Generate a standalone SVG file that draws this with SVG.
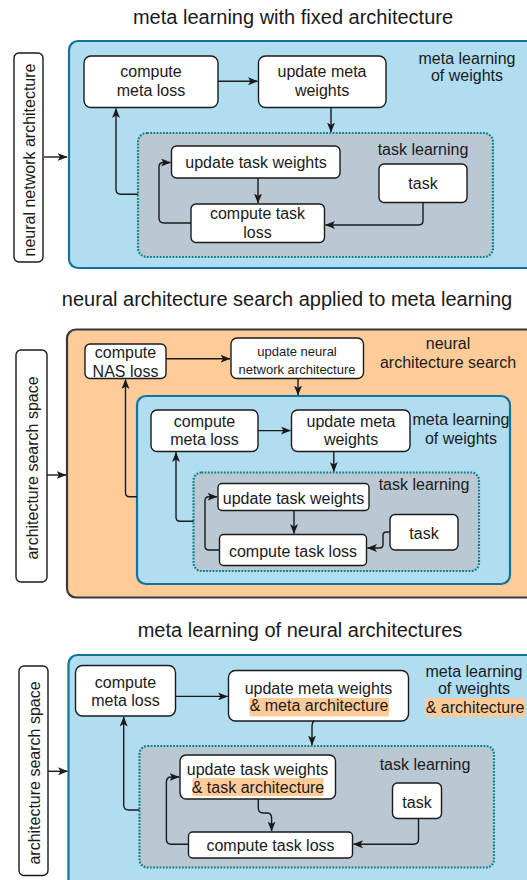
<svg xmlns="http://www.w3.org/2000/svg" width="527" height="880" viewBox="0 0 527 880">
<defs>
<style>
text{font-family:"Liberation Sans",Arial,Helvetica,sans-serif;fill:#1a1a1a;text-anchor:middle}
.t{font-size:16px}
.s{font-size:13px}
.ttl{font-size:20px}
.n{fill:#fff;stroke:#1a1a1a;stroke-width:1.4}
.blue{fill:#b1ddf0;stroke:#10739e;stroke-width:2.2}
.orange{fill:#ffcc99;stroke:#36393d;stroke-width:2.2}
.dot{fill:#bac8d3;stroke:#0e8088;stroke-width:2.2;stroke-dasharray:1.8 1.4}
.hl{fill:#ffcc99}
.c{fill:none;stroke:#1a1a1a;stroke-width:1.4;marker-end:url(#a)}
</style>
<marker id="a" viewBox="0 0 10 8" refX="9.5" refY="4" markerWidth="10" markerHeight="8" markerUnits="userSpaceOnUse" orient="auto">
<path d="M0,0 L10,4 L0,8 L2.5,4 z" fill="#1a1a1a"/>
</marker>
</defs>

<!-- Panel 1 -->
<text class="ttl" x="293" y="24">meta learning with fixed architecture</text>
<g id="p1-blue"><rect class="blue" x="69" y="41" width="520" height="227" rx="9"/>
<text class="t" x="467" y="64">meta learning</text><text class="t" x="467" y="81">of weights</text></g>
<g id="p1-arch"><rect class="n" x="14" y="53" width="29" height="209" rx="5"/>
<text class="t" transform="translate(28.5,160) rotate(-90)" y="6">neural network architecture</text></g>
<g id="p1-task-learning"><rect class="dot" x="138" y="133" width="355" height="124" rx="9"/>
<text class="t" x="423" y="155">task learning</text></g>
<g id="p1-cml"><rect class="n" x="84" y="56" width="134" height="51.5" rx="7"/>
<text class="t" x="151" y="77">compute</text><text class="t" x="151" y="96">meta loss</text></g>
<g id="p1-umw"><rect class="n" x="258.5" y="56" width="127.5" height="51.5" rx="7"/>
<text class="t" x="322" y="77">update meta</text><text class="t" x="322" y="96">weights</text></g>
<g id="p1-utw"><rect class="n" x="171.5" y="146" width="168.5" height="32" rx="5"/>
<text class="t" x="256" y="168">update task weights</text></g>
<g id="p1-task"><rect class="n" x="379" y="164" width="88" height="38.5" rx="5"/>
<text class="t" x="423" y="189">task</text></g>
<g id="p1-ctl"><rect class="n" x="191" y="204" width="133.5" height="38.5" rx="5"/>
<text class="t" x="257.5" y="219">compute task</text><text class="t" x="257.5" y="238">loss</text></g>

<!-- Panel 2 -->
<text class="ttl" x="287" y="306">neural architecture search applied to meta learning</text>
<g id="p2-orange"><rect class="orange" x="67" y="329.5" width="520" height="268" rx="9"/>
<text class="t" x="448" y="349">neural</text><text class="t" x="448" y="367.5">architecture search</text></g>
<g id="p2-space"><rect class="n" x="16" y="350" width="31" height="232" rx="5"/>
<text class="t" transform="translate(31.5,468) rotate(-90)" y="6">architecture search space</text></g>
<g id="p2-cnas"><rect class="n" x="85" y="344" width="81" height="34.5" rx="5"/>
<text class="t" x="125.5" y="358">compute</text><text class="t" x="125.5" y="376.5">NAS loss</text></g>
<g id="p2-unna"><rect class="n" x="231" y="338" width="132.5" height="40.5" rx="6"/>
<text class="s" x="297" y="355.5">update neural</text><text class="s" x="297" y="374">network architecture</text></g>
<g id="p2-blue"><rect class="blue" x="137" y="396" width="373" height="188" rx="9"/>
<text class="t" x="461" y="425">meta learning</text><text class="t" x="461" y="444">of weights</text></g>
<g id="p2-task-learning"><rect class="dot" x="193.5" y="472.5" width="285.5" height="98.5" rx="8"/>
<text class="t" x="424" y="490">task learning</text></g>
<g id="p2-cml"><rect class="n" x="151" y="410" width="107" height="41.5" rx="6"/>
<text class="t" x="204.5" y="427">compute</text><text class="t" x="204.5" y="445">meta loss</text></g>
<g id="p2-umw"><rect class="n" x="291.5" y="410" width="118.5" height="41.5" rx="6"/>
<text class="t" x="351" y="427">update meta</text><text class="t" x="351" y="445">weights</text></g>
<g id="p2-utw"><rect class="n" x="218" y="483.5" width="151" height="27" rx="4"/>
<text class="t" x="293.5" y="503.5">update task weights</text></g>
<g id="p2-task"><rect class="n" x="390" y="514.5" width="68" height="35.5" rx="5"/>
<text class="t" x="424" y="539">task</text></g>
<g id="p2-ctl"><rect class="n" x="219.5" y="534.5" width="147" height="31" rx="4"/>
<text class="t" x="293" y="557">compute task loss</text></g>

<!-- Panel 3 -->
<text class="ttl" x="300" y="637">meta learning of neural architectures</text>
<g id="p3-blue"><rect class="blue" x="68.5" y="655" width="520" height="260" rx="9"/>
<text class="t" x="474" y="676.5">meta learning</text><text class="t" x="474" y="694">of weights</text>
<rect class="hl" x="426" y="698" width="99" height="19"/>
<text class="t" x="475" y="712.5">&amp; architecture</text></g>
<g id="p3-space"><rect class="n" x="19" y="666" width="29" height="209.5" rx="5"/>
<text class="t" transform="translate(33.5,773) rotate(-90)" y="6">architecture search space</text></g>
<g id="p3-task-learning"><rect class="dot" x="139.5" y="746" width="354.5" height="121.5" rx="8"/>
<text class="t" x="425" y="770">task learning</text></g>
<g id="p3-cml"><rect class="n" x="75.5" y="665.5" width="100" height="50.5" rx="7"/>
<text class="t" x="125.5" y="688">compute</text><text class="t" x="125.5" y="706">meta loss</text></g>
<g id="p3-umw"><rect class="n" x="228.5" y="670.5" width="180" height="50.5" rx="7"/>
<text class="t" x="318.5" y="693.5">update meta weights</text>
<rect class="hl" x="249.5" y="698" width="139.5" height="18.5"/>
<text class="t" x="319" y="711">&amp; meta architecture</text></g>
<g id="p3-utw"><rect class="n" x="180" y="755" width="155.5" height="44" rx="6"/>
<text class="t" x="257.5" y="775">update task weights</text>
<rect class="hl" x="192.5" y="778" width="131" height="18"/>
<text class="t" x="258" y="792.5">&amp; task architecture</text></g>
<g id="p3-task"><rect class="n" x="392.5" y="783" width="49" height="35.5" rx="5"/>
<text class="t" x="417" y="807.5">task</text></g>
<g id="p3-ctl"><rect class="n" x="188.5" y="832" width="164" height="26" rx="4"/>
<text class="t" x="270.5" y="851">compute task loss</text></g>

<g id="connectors">
<!-- panel 1 -->
<path class="c" d="M44,157 H67"/>
<path class="c" d="M218,81.3 H257.5"/>
<path class="c" d="M331,107.5 V132"/>
<path class="c" d="M258,178 V203"/>
<path class="c" d="M423,202.5 V220.5 Q423,225 418.5,225 H325.5"/>
<path class="c" d="M191,223 H164 Q159,223 159,218 V167 Q159,162.5 163.5,162.5 H170.5"/>
<path class="c" d="M138,194.3 H121 Q116,194.3 116,189.3 V108.5"/>
<!-- panel 2 -->
<path class="c" d="M47,475 H66"/>
<path class="c" d="M166,358.7 H230"/>
<path class="c" d="M298,378.5 V395"/>
<path class="c" d="M258,430.6 H290.5"/>
<path class="c" d="M333.8,451.5 V471.5"/>
<path class="c" d="M294,510.5 V533.5"/>
<path class="c" d="M390,532 H386.5 Q383,532 383,535.5 V544.5 Q383,548 379.5,548 H367.5"/>
<path class="c" d="M219.5,550 H209 Q205,550 205,546 V500.8 Q205,496.8 209,496.8 H217"/>
<path class="c" d="M193.5,521.3 H180 Q176,521.3 176,517.3 V452.5"/>
<path class="c" d="M137,496.8 H129.5 Q125.5,496.8 125.5,492.8 V379.5"/>
<!-- panel 3 -->
<path class="c" d="M48,771.3 H67.5"/>
<path class="c" d="M175.5,696.4 H227.5"/>
<path class="c" d="M314.3,721 Q312,722 312,727 V745"/>
<path class="c" d="M258.3,799 V808 Q258.3,813 263.3,813 H267 Q271.6,813 271.6,818 V831"/>
<path class="c" d="M418.5,818.5 V839.3 Q418.5,844.3 413.5,844.3 H353.5"/>
<path class="c" d="M188.5,844.3 H171.4 Q166.4,844.3 166.4,839.3 V782 Q166.4,777 171.4,777 H179"/>
<path class="c" d="M139.5,810 H128.7 Q123.7,810 123.7,805 V717"/>
</g>
</svg>
